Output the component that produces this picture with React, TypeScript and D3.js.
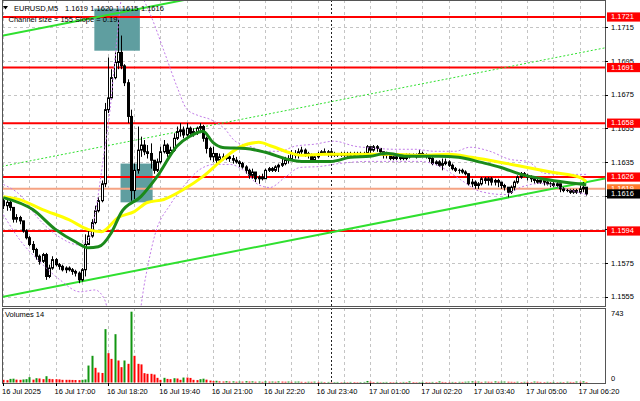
import React from "react";
import * as d3 from "d3";

// ---------- data (prices in pips above 1.1600) ----------
const BASE_PRICE = 1.16;
const FIRST_OPEN = 12;
const closePips = [
  9, 11, 8, 1, 2, 0, -6, -10, -14, -17,
  -21, -24, -20, -33, -28, -23, -26, -27, -29, -28,
  -29, -30, -31, -35, -29, -14, -9, -1, 6, 12,
  22, 66, 73, 85, 94, 100, 92, 82, 62, 18,
  30, 42, 45, 41, 40, 36, 30, 35, 41, 45,
  40, 42, 49, 53, 54, 51, 55, 52, 53, 55,
  56, 49, 43, 38, 40, 36, 38, 37, 38, 37,
  36, 35, 34, 32, 30, 27, 29, 25, 26, 25,
  30, 31, 30, 32, 33, 34, 36, 37, 40, 39,
  41, 42, 40, 39, 36, 38, 40, 41, 40, 41,
  39, 40, 39, 40, 39, 40, 39, 40, 40, 39,
  40, 44, 42, 44, 43, 41, 39, 40, 37, 38,
  37, 38, 37, 38, 39, 39, 38, 40, 39, 39,
  37, 34, 35, 33, 34, 35, 33, 31, 30, 30,
  29, 28, 22, 23, 21, 22, 25, 24, 25, 23,
  24, 23, 21, 20, 17, 20, 23, 26, 28, 27,
  26, 25, 24, 23, 24, 23, 22, 22, 21, 22,
  19, 18, 18, 17, 18, 17, 19, 20, 16,
];
const highPips = [
  14, 13, 12, 8, 4, 3, 0, -5, -9, -12,
  -16, -20, -19, -19, -26, -21, -22, -25, -26, -27,
  -27, -28, -29, -30, -28, -8, -5, 1, 9, 14,
  24, 70, 97, 90, 100, 120, 110, 93, 84, 66,
  34, 56, 50, 48, 45, 46, 36, 37, 44, 48,
  46, 44, 52, 56, 58, 56, 58, 56, 55, 56,
  58, 57, 50, 44, 44, 40, 40, 40, 39, 39,
  39, 38, 36, 35, 33, 31, 31, 29, 27, 28,
  31, 32, 32, 33, 34, 37, 38, 39, 42, 42,
  43, 44, 43, 41, 40, 39, 41, 42, 43, 42,
  42, 41, 40, 41, 41, 41, 41, 41, 41, 41,
  41, 45, 44, 45, 45, 43, 41, 41, 40, 39,
  39, 39, 39, 40, 40, 40, 40, 42, 41, 40,
  39, 38, 36, 36, 37, 37, 36, 34, 32, 31,
  31, 30, 28, 25, 24, 23, 26, 26, 26, 26,
  25, 25, 23, 22, 20, 21, 24, 27, 29, 29,
  28, 27, 26, 25, 25, 25, 24, 23, 23, 23,
  22, 20, 19, 19, 19, 19, 21, 23, 20,
];
const lowPips = [
  7, 6, 6, -1, -1, -2, -7, -11, -15, -19,
  -23, -26, -25, -35, -34, -29, -27, -29, -30, -31,
  -30, -32, -33, -37, -36, -33, -14, -10, -2, 5,
  11, 20, 64, 72, 84, 90, 90, 80, 58, 12,
  13, 28, 38, 39, 37, 31, 28, 29, 34, 40,
  38, 38, 41, 48, 50, 49, 50, 50, 50, 51,
  52, 47, 40, 36, 35, 34, 35, 36, 36, 35,
  34, 34, 32, 31, 28, 25, 25, 23, 22, 24,
  25, 29, 29, 29, 29, 32, 33, 34, 36, 37,
  37, 39, 38, 37, 35, 35, 37, 39, 39, 38,
  38, 38, 38, 38, 38, 38, 38, 38, 39, 38,
  38, 39, 40, 41, 41, 39, 37, 37, 36, 36,
  36, 36, 36, 36, 37, 38, 37, 38, 38, 37,
  35, 33, 33, 32, 30, 33, 32, 30, 29, 28,
  28, 27, 21, 20, 19, 19, 21, 22, 21, 21,
  21, 20, 19, 18, 14, 16, 18, 22, 25, 26,
  24, 23, 22, 22, 22, 21, 21, 20, 20, 20,
  17, 17, 17, 16, 16, 16, 16, 17, 15,
];
const volumes = [
  28, 24, 38, 40, 30, 28, 32, 35, 56, 30,
  45, 42, 35, 66, 38, 35, 35, 33, 28, 28,
  28, 27, 26, 25, 28, 32, 178, 280, 154, 105,
  100, 560, 308, 248, 507, 231, 161, 231, 196, 743,
  280, 196, 190, 98, 91, 91, 84, 49, 28, 49,
  38, 35, 45, 42, 28, 52, 52, 48, 28, 25,
  35, 40, 30, 20, 14, 18, 12, 10, 14, 10,
  12, 8, 10, 9, 14, 10, 12, 8, 10, 7,
  12, 9, 10, 8, 12, 9, 8, 10, 7, 9,
  10, 7, 6, 8, 7, 9, 6, 7, 5, 6,
  4, 5, 6, 4, 5, 4, 6, 5, 4, 5,
  6, 16, 8, 5, 6, 4, 5, 6, 5, 4,
  5, 4, 6, 5, 12, 5, 4, 5, 6, 5,
  4, 6, 5, 12, 6, 5, 4, 6, 5, 7,
  6, 8, 10, 12, 8, 10, 6, 9, 8, 7,
  12, 8, 9, 10, 8, 7, 6, 8, 5, 7,
  6, 5, 10, 8, 6, 5, 7, 5, 6, 4,
  6, 5, 8, 6, 5, 10, 7, 12, 5,
];
const VOLUME_MAX = 743;

const greenMaBars = [0, 9, 16, 22, 26, 29, 33, 36, 42, 47, 53, 57, 61, 64, 67, 74, 80, 87, 91, 100, 106, 112, 117, 123, 133, 139, 146, 152, 158, 164, 170, 178];
const greenMaPips = [13.8, 6.7, -5.2, -12.4, -16, -15.4, -7, 4.9, 14.4, 26.4, 44.3, 50.2, 53.2, 46.6, 43.6, 43, 40.7, 36.5, 35.3, 35.3, 37.7, 38.3, 40.1, 38.3, 38.3, 37.7, 34.7, 31.7, 27.6, 25.2, 23.4, 21.5];
const yellowMaBars = [0, 5, 12, 20, 26, 30, 35, 40, 44, 49, 55, 61, 67, 72, 78, 82, 87, 91, 98, 108, 118, 128, 136, 143, 152, 160, 168, 176, 178];
const yellowMaPips = [14.4, 12.6, 6.7, 0.7, -5.2, -6.4, 1.9, 5.5, 10.9, 12.7, 18.6, 26.4, 36.5, 43.6, 46.6, 44.3, 40.7, 38.9, 39.5, 39.5, 39.5, 38.9, 39.5, 37.7, 34.7, 31.7, 28.7, 25.8, 23.4];
const upperBandBars = [0, 5, 11, 17, 23, 26, 28, 30.5, 32.6, 34.4, 36, 37.2, 41.8, 44.8, 49.4, 53.3, 56, 60, 63, 67.7, 70.8, 75.3, 80, 84.5, 89, 95, 101, 107.4, 113.5, 119.6, 125.7, 131.8, 138, 142.5, 148.6, 154.7, 160, 165.4, 171.5, 178];
const upperBandPips = [21.6, 15.6, 0.7, -9.4, -14.2, -11.2, 3.7, 36.5, 66.2, 102, 131.9, 143.8, 135, 123, 99, 78.3, 66.4, 62.2, 60.4, 54.4, 47.3, 44.3, 41.3, 41.3, 44.3, 45.5, 47.3, 44.3, 43.1, 42.5, 42.5, 41.3, 41.3, 43.7, 41.3, 36.5, 35.3, 28.2, 27.6, 27.6];
const lowerBandBars = [0, 5, 11.2, 17.3, 23.4, 28, 31, 33, 35.6, 40.2, 43.3, 46.3, 51, 55.5, 60, 64.6, 69.2, 73.8, 77.8, 81.4, 86, 90.6, 96.7, 102.8, 112, 127.2, 133.3, 139.5, 145.6, 153.2, 157.8, 163.9, 170, 178];
const lowerBandPips = [3.7, -11.2, -24.3, -35, -42.1, -41, -47, -64.8, -82.6, -70.7, -35, -8.2, 9.7, 21.6, 30.5, 33.5, 33.5, 29.3, 21.6, 19.8, 25.8, 31.7, 32.3, 34.1, 35.3, 35.3, 32.3, 24.6, 17.5, 15.6, 19.8, 22.2, 19.8, 15.6];

const redLevels = [1.1721, 1.1691, 1.1658, 1.1626, 1.1594];
const salmonLevel = 1.1619;
const lastPrice = 1.1616;
const priceTicks = [1.1555, 1.1575, 1.1595, 1.1615, 1.1635, 1.1655, 1.1675, 1.1695, 1.1715];
const timeTickBars = [0, 16, 32, 48, 64, 80, 96, 112, 128, 144, 160, 176];
const timeTickLabels = ["16 Jul 2025", "16 Jul 17:00", "16 Jul 18:20", "16 Jul 19:40", "16 Jul 21:00", "16 Jul 22:20", "16 Jul 23:40", "17 Jul 01:00", "17 Jul 02:20", "17 Jul 03:40", "17 Jul 05:00", "17 Jul 06:20"];
const GRID_STEP_BARS = 8;
const DAY_SEPARATOR_BAR = 100;
const boxBarStart = [27.8, 35.8];
const boxBarEnd = [41.7, 45.6];
const boxPriceTop = [1.1726, 1.1634];
const boxPriceBottom = [1.1701, 1.1611];
const channelLowStart = 1.1555;
const channelLowEnd = 1.1623;
const channelWidth = 0.0155;
const headerTitle = "EURUSD,M5";
const headerPrices = ["1.1619", "1.1620", "1.1615", "1.1616"];
const channelText = "Channel size = 155 Slope = 0.19";

// ---------- layout ----------
const W = 640, H = 401;
const L = 2, R = 605;
const P_TOP = 0, P_BOT = 306;
const V_TOP = 308, V_BOT = 383;
const FONT = "'Liberation Sans', Arial, sans-serif";
const FS = 7.5;

const lastBar = closePips.length - 1;
const x = d3.scaleLinear().domain([0, lastBar]).range([3.3, 3.3 + lastBar * 3.275]);
const y = d3.scaleLinear().domain([1.1555, 1.1721]).range([296.7, 17]);
const yv = d3.scaleLinear().domain([0, VOLUME_MAX]).range([V_BOT - 0.5, 311.7]);
const pip = (p: number) => BASE_PRICE + p / 10000;

const bars = closePips.map((c, i) => {
  const o = i === 0 ? FIRST_OPEN : closePips[i - 1];
  return {
    i,
    o: pip(o),
    c: pip(c),
    h: pip(Math.max(highPips[i], o, c)),
    l: pip(Math.min(lowPips[i], o, c)),
  };
});

const lineGen = d3
  .line<[number, number]>()
  .x((d) => x(d[0]))
  .y((d) => y(pip(d[1])))
  .curve(d3.curveMonotoneX);

const zip = (a: number[], b: number[]) => a.map((v, i) => [v, b[i]] as [number, number]);

const boxedPrices = [...redLevels, salmonLevel, lastPrice];
const visibleTicks = priceTicks.filter((p) => boxedPrices.every((b) => Math.abs(y(p) - y(b)) >= 4.5));

export default function App() {
  const gridBars: number[] = [];
  for (let b = 0; x(b) < R; b += GRID_STEP_BARS) gridBars.push(b);
  const bLeft = x.invert(L);
  const bRight = x.invert(R);
  const chAt = (b: number) => channelLowStart + ((channelLowEnd - channelLowStart) * b) / lastBar;

  const labelBox = (price: number, fill: string, key: string) => (
    <g key={key}>
      <rect x={607} y={y(price) - 4.6} width={34} height={9.2} fill={fill} />
      <text x={611} y={y(price) + 0.3} fill="#fff" fontSize={FS} fontFamily={FONT} dominantBaseline="middle">
        {price.toFixed(4)}
      </text>
    </g>
  );

  return (
    <svg width={W} height={H} style={{ position: "absolute", left: 0, top: 0, background: "#fff" }}>
      <defs>
        <clipPath id="pclip">
          <rect x={L} y={P_TOP} width={R - L} height={P_BOT - P_TOP} />
        </clipPath>
        <clipPath id="vclip">
          <rect x={L} y={V_TOP} width={R - L} height={V_BOT - V_TOP} />
        </clipPath>
      </defs>
      <rect x={0} y={0} width={W} height={H} fill="#fff" />

      {/* grid */}
      <g stroke="#c4c4c4" strokeWidth={1} strokeDasharray="3,3" shapeRendering="crispEdges">
        {gridBars.map((b) => (
          <line key={"vg" + b} x1={Math.round(x(b)) + 0.5} x2={Math.round(x(b)) + 0.5} y1={P_TOP} y2={P_BOT} />
        ))}
        {gridBars.map((b) => (
          <line key={"vgv" + b} x1={Math.round(x(b)) + 0.5} x2={Math.round(x(b)) + 0.5} y1={V_TOP} y2={V_BOT} />
        ))}
        {priceTicks.map((p) => (
          <line key={"hg" + p} x1={L} x2={R} y1={Math.round(y(p)) + 0.5} y2={Math.round(y(p)) + 0.5} />
        ))}
      </g>

      <g clipPath="url(#pclip)">
        {/* rectangles */}
        {boxBarStart.map((b0, k) => (
          <rect
            key={"box" + k}
            x={x(b0)}
            y={y(boxPriceTop[k])}
            width={x(boxBarEnd[k]) - x(b0)}
            height={y(boxPriceBottom[k]) - y(boxPriceTop[k])}
            fill="#5f9ea0"
          />
        ))}
        {/* day separator */}
        <line x1={Math.round(x(DAY_SEPARATOR_BAR)) + 0.5} x2={Math.round(x(DAY_SEPARATOR_BAR)) + 0.5} y1={P_TOP} y2={P_BOT} stroke="#222" strokeDasharray="2,2" />
        {/* levels */}
        <line x1={L} x2={R} y1={y(salmonLevel)} y2={y(salmonLevel)} stroke="#f5a383" strokeWidth={2} />
        {redLevels.map((p) => (
          <line key={"lv" + p} x1={L} x2={R} y1={y(p)} y2={y(p)} stroke="#ff0000" strokeWidth={2} />
        ))}
        {/* channel */}
        <line x1={x(bLeft)} x2={x(bRight)} y1={y(chAt(bLeft))} y2={y(chAt(bRight))} stroke="#2fe02f" strokeWidth={2} />
        <line x1={x(bLeft)} x2={x(bRight)} y1={y(chAt(bLeft) + channelWidth)} y2={y(chAt(bRight) + channelWidth)} stroke="#2fe02f" strokeWidth={2} />
        <line x1={x(bLeft)} x2={x(bRight)} y1={y(chAt(bLeft) + channelWidth / 2)} y2={y(chAt(bRight) + channelWidth / 2)} stroke="#2fe02f" strokeWidth={1} strokeDasharray="2,2" />

        {/* candles */}
        {bars.map((b) => {
          const cx = Math.round(x(b.i)) + 0.5;
          const top = y(Math.max(b.o, b.c));
          const bot = y(Math.min(b.o, b.c));
          const up = b.c > b.o;
          return (
            <g key={"c" + b.i}>
              <line x1={cx} x2={cx} y1={y(b.h)} y2={y(b.l)} stroke="#000" strokeWidth={1} />
              {b.c === b.o ? (
                <line x1={cx - 1.5} x2={cx + 1.5} y1={top} y2={top} stroke="#000" strokeWidth={1} />
              ) : (
                <rect x={cx - 1} y={top} width={2} height={Math.max(1, bot - top)} fill={up ? "#fff" : "#000"} stroke="#000" strokeWidth={1} />
              )}
            </g>
          );
        })}

        {/* bands */}
        <path d={lineGen(zip(upperBandBars, upperBandPips)) || ""} fill="none" stroke="#c27de8" strokeWidth={1} strokeDasharray="2,2" />
        <path d={lineGen(zip(lowerBandBars, lowerBandPips)) || ""} fill="none" stroke="#c27de8" strokeWidth={1} strokeDasharray="2,2" />
        {/* moving averages */}
        <path d={lineGen(zip(yellowMaBars, yellowMaPips)) || ""} fill="none" stroke="#ffff00" strokeWidth={3} />
        <path d={lineGen(zip(greenMaBars, greenMaPips)) || ""} fill="none" stroke="#1b8a1b" strokeWidth={3} />
      </g>

      {/* volumes */}
      <g clipPath="url(#vclip)">
        <line x1={Math.round(x(DAY_SEPARATOR_BAR)) + 0.5} x2={Math.round(x(DAY_SEPARATOR_BAR)) + 0.5} y1={V_TOP} y2={V_BOT} stroke="#222" strokeDasharray="2,2" />
        {volumes.map((v, i) => {
          const cx = Math.round(x(i));
          const upv = i > 0 && v > volumes[i - 1];
          return <rect key={"v" + i} x={cx - 0.5} y={yv(v)} width={2} height={yv(0) - yv(v)} fill={upv ? "#129612" : "#ff0000"} />;
        })}
      </g>

      {/* frames */}
      <g fill="none" stroke="#555" strokeWidth={1} shapeRendering="crispEdges">
        <rect x={L + 0.5} y={P_TOP + 0.5} width={R - L} height={P_BOT - P_TOP} />
        <rect x={L + 0.5} y={V_TOP + 0.5} width={R - L} height={V_BOT - V_TOP} />
      </g>

      {/* right price axis */}
      <g fontFamily={FONT} fontSize={FS} fill="#000">
        {priceTicks.map((p) => (
          <line key={"ptl" + p} x1={R} x2={R + 3} y1={Math.round(y(p)) + 0.5} y2={Math.round(y(p)) + 0.5} stroke="#000" />
        ))}
        {visibleTicks.map((p) => (
          <text key={"pt" + p} x={611} y={y(p) + 0.8} dominantBaseline="middle">{p.toFixed(4)}</text>
        ))}
      </g>
      {redLevels.map((p) => labelBox(p, "#ff0000", "lb" + p))}
      {labelBox(salmonLevel, "#ff7a2e", "lbs")}
      {labelBox(lastPrice, "#000", "lbl")}

      {/* volume axis */}
      <g fontFamily={FONT} fontSize={FS} fill="#000">
        <text x={611} y={315.5}>{VOLUME_MAX}</text>
        <text x={611} y={381}>0</text>
        <text x={5} y={317}>Volumes 14</text>
      </g>

      {/* time axis */}
      <g fontFamily={FONT} fontSize={FS} fill="#000">
        {timeTickBars.map((b, k) => (
          <g key={"tt" + b}>
            <line x1={Math.round(x(b)) + 0.5} x2={Math.round(x(b)) + 0.5} y1={V_BOT} y2={V_BOT + 3} stroke="#000" />
            <text x={x(b) - 1.2} y={394}>{timeTickLabels[k]}</text>
          </g>
        ))}
      </g>

      {/* header */}
      <polygon points="3,6 8,6 5.5,9.5" fill="#000" />
      <g fontFamily={FONT} fontSize={FS} fill="#000">
        <text x={14} y={10.5}>{headerTitle}</text>
        {headerPrices.map((t, k) => (
          <text key={"hp" + k} x={65 + k * 25.3} y={10.5}>{t}</text>
        ))}
        <text x={8.5} y={21.5}>{channelText}</text>
      </g>
    </svg>
  );
}
